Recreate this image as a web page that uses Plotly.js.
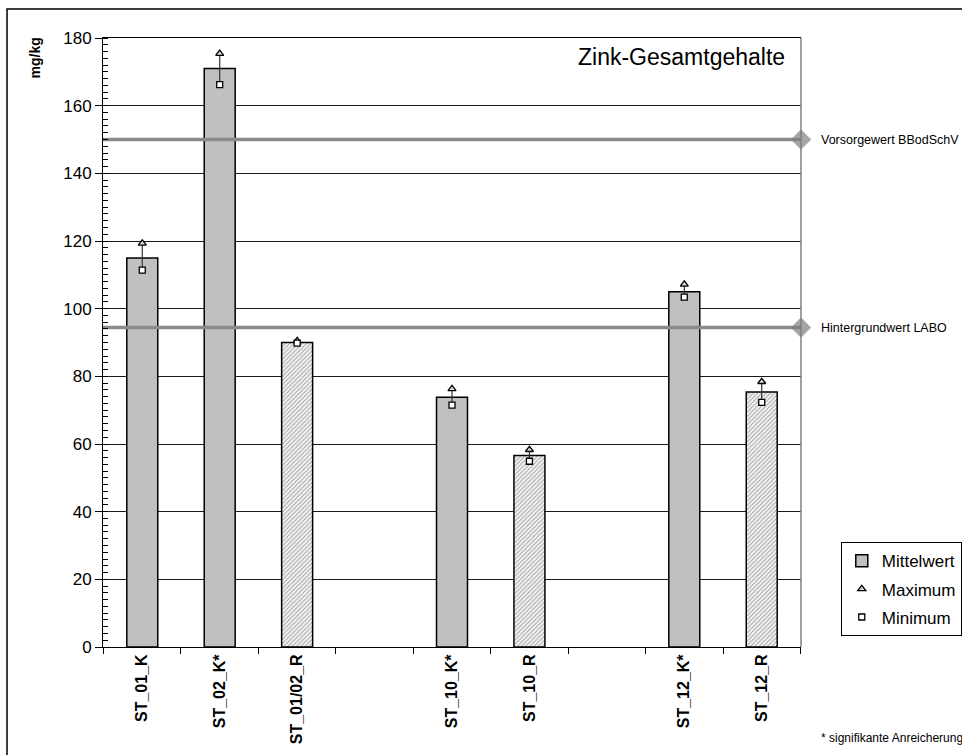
<!DOCTYPE html>
<html>
<head>
<meta charset="utf-8">
<script src="https://cdn.plot.ly/plotly-3.0.1.min.js"></script>
<style>
  html, body { margin: 0; padding: 0; background: #fff; }
  #chart { width: 962px; height: 755px; }
</style>
</head>
<body>
<div id="chart"></div>
<script>
// ---- data ----
const categories = ['ST_01_K', 'ST_02_K*', 'ST_01/02_R', ' ', 'ST_10_K*', 'ST_10_R', '  ', 'ST_12_K*', 'ST_12_R'];
const meanValues = [115, 171, 90, null, 73.8, 56.6, null, 105, 75.4];
const maxValues  = [119.3, 175.4, 90.5, null, 76.3, 58.3, null, 107.2, 78.4];
const minValues  = [111.4, 166.2, 89.8, null, 71.5, 54.9, null, 103.4, 72.3];
const refValues  = [150, 94.4];
const refLabels  = ['Vorsorgewert BBodSchV', 'Hintergrundwert LABO'];
const chartTitle = 'Zink-Gesamtgehalte';
const yUnit = 'mg/kg';
const footnote = '* signifikante Anreicherung';

// ---- styles derived from categories ----
const isRef = categories.map(c => /_R$/.test(c));
const barColors = isRef.map(r => r ? '#f4f4f4' : '#c0c0c0');
const barPatterns = isRef.map(r => r ? '/' : '');
const errPlus = meanValues.map((m, i) => m == null ? null : maxValues[i] - m);
const errMinus = meanValues.map((m, i) => m == null ? null : m - minValues[i]);

const FONT = 'Liberation Sans, Arial, sans-serif';

const traces = [
  {
    type: 'bar', name: 'Mittelwert', x: categories, y: meanValues,
    width: 0.4, legendgroup: 'a',
    marker: {
      color: barColors,
      line: { color: '#000', width: 1.5 },
      pattern: { shape: barPatterns, fillmode: 'overlay', fgcolor: '#b4b4b4', size: 3, solidity: 0.3 }
    },
    error_y: { type: 'data', symmetric: false, array: errPlus, arrayminus: errMinus,
               width: 0, thickness: 1.2, color: '#333' },
    hoverinfo: 'x+y'
  },
  {
    type: 'scatter', mode: 'markers', name: 'Maximum', x: categories, y: maxValues,
    legendgroup: 'b',
    marker: { symbol: 'triangle-up', size: 7, color: '#d8d8d8', line: { color: '#000', width: 1.3 } }
  },
  {
    type: 'scatter', mode: 'markers', name: 'Minimum', x: categories, y: minValues,
    legendgroup: 'c',
    marker: { symbol: 'square', size: 6, color: '#fff', line: { color: '#000', width: 1.3 } }
  }
];

refValues.forEach((v, i) => {
  traces.push({
    type: 'scatter', mode: 'lines+markers', xaxis: 'x2', yaxis: 'y',
    x: [0, 1], y: [v, v], showlegend: false, cliponaxis: false,
    name: refLabels[i],
    line: { color: '#8a8a8a', width: 3.5 },
    marker: { symbol: 'diamond', size: [0, 15], color: '#7f7f7f' }
  });
});

const annotations = [
  { text: chartTitle, xref: 'paper', yref: 'paper', x: 0.8295, y: 0.969,
    xanchor: 'center', yanchor: 'middle', showarrow: false,
    font: { family: FONT, size: 23, color: '#000' } },
  { text: '<b>' + yUnit + '</b>', xref: 'paper', yref: 'paper', x: -0.097, y: 0.967,
    xanchor: 'center', yanchor: 'middle', textangle: -90, showarrow: false,
    font: { family: FONT, size: 14, color: '#000' } },
  { text: footnote, xref: 'paper', yref: 'paper', x: 1.026, y: -0.1494,
    xanchor: 'left', yanchor: 'middle', showarrow: false,
    font: { family: FONT, size: 12, color: '#000' } }
];
refValues.forEach((v, i) => {
  annotations.push({ text: refLabels[i], xref: 'paper', yref: 'y', x: 1.0265, y: v,
    xanchor: 'left', yanchor: 'middle', showarrow: false,
    font: { family: FONT, size: 12.5, color: '#000' } });
});

const layout = {
  width: 962, height: 755,
  margin: { l: 103, r: 161, t: 38, b: 108, autoexpand: false },
  paper_bgcolor: '#fff', plot_bgcolor: '#fff',
  font: { family: FONT, color: '#000' },
  showlegend: true,
  legend: {
    x: 1.057, y: 0.172, xanchor: 'left', yanchor: 'top',
    bordercolor: '#000', borderwidth: 1, bgcolor: '#fff',
    font: { family: FONT, size: 17, color: '#000' },
    traceorder: 'grouped', tracegroupgap: 3, itemwidth: 30
  },
  xaxis: {
    type: 'category', tickson: 'boundaries', ticks: 'outside', ticklen: 6, tickcolor: '#000',
    tickangle: -90, tickfont: { family: FONT, size: 16, color: '#000', weight: 'bold' },
    showline: true, linecolor: '#000', linewidth: 1, mirror: true,
    showgrid: false, zeroline: false, fixedrange: true
  },
  xaxis2: { overlaying: 'x', range: [0, 1], visible: false, fixedrange: true },
  yaxis: {
    range: [0, 180], dtick: 20, tick0: 0, ticks: 'outside', ticklen: 7, tickcolor: '#000',
    tickfont: { family: FONT, size: 17, color: '#000' },
    showline: true, linecolor: '#000', linewidth: 1,
    showgrid: true, gridcolor: '#1a1a1a', gridwidth: 1, zeroline: false,
    minor: { dtick: 2, ticks: 'inside', ticklen: 5, tickcolor: '#000', showgrid: false },
    fixedrange: true
  },
  bargap: 0.6,
  shapes: [
    { type: 'line', xref: 'paper', yref: 'paper', x0: 1, x1: 1, y0: 0, y1: 1,
      line: { color: '#808080', width: 1.5 } },
    { type: 'rect', xref: 'paper', yref: 'paper', x0: -0.1375, x1: 1.4, y0: -0.4, y1: 1.0476,
      line: { color: '#000', width: 1.5 }, fillcolor: 'rgba(0,0,0,0)' }
  ],
  annotations: annotations
};

Plotly.newPlot('chart', traces, layout, { displayModeBar: false, staticPlot: true });
</script>
</body>
</html>
